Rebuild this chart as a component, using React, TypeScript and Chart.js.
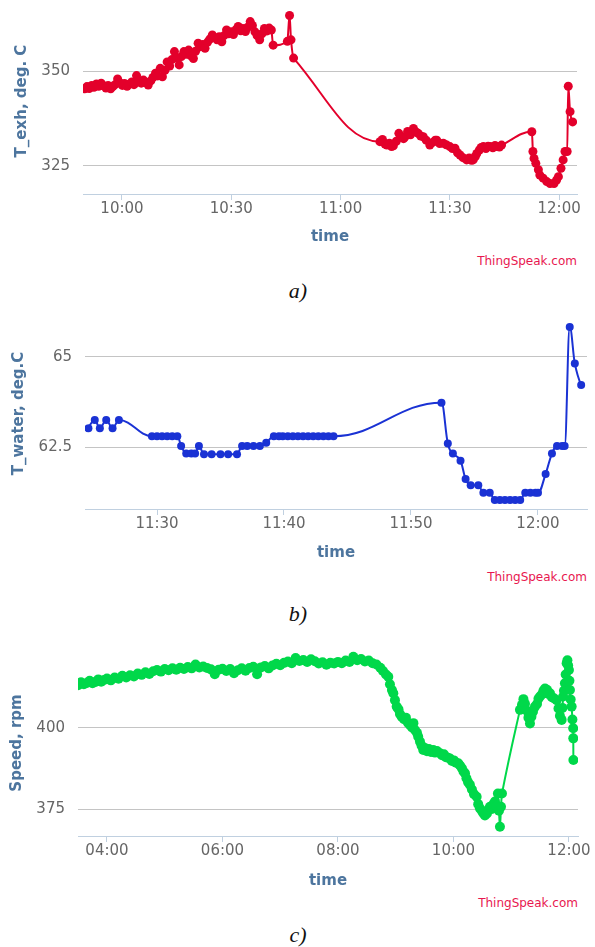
import React, { useEffect, useRef } from 'react';
import { Chart, registerables } from 'chart.js';

Chart.register(...registerables);

// ---------- a) exhaust temperature ----------
const exhTime = [
  589.8, 590.4, 591.0, 591.7, 592.3, 593.0, 593.6, 594.3, 594.9, 595.6, 596.2, 596.9, 597.5, 598.1, 598.8,
  599.4, 600.1, 600.7, 601.4, 602.0, 602.7, 603.3, 604.0, 604.6, 605.3, 605.9, 606.6, 607.2, 607.9, 608.5,
  609.2, 609.8, 610.5, 611.1, 611.8, 612.4, 613.1, 613.7, 614.4, 615.0, 615.7, 616.3, 617.0, 617.6, 618.3,
  618.9, 619.6, 620.2, 620.9, 621.5, 622.2, 622.8, 623.5, 624.1, 624.8, 625.4, 626.1, 626.7, 627.4, 628.0,
  628.7, 629.3, 630.0, 630.6, 631.3, 631.9, 632.6, 633.2, 633.9, 634.5, 635.2, 635.8, 636.5, 637.1, 637.8,
  638.4, 639.1, 639.7, 640.4, 641.0, 641.5, 645.4, 646.0, 646.4, 647.1,
  670.8, 671.5, 672.2, 672.7, 673.4, 674.0, 674.5, 675.3, 676.0, 676.6, 677.3, 677.7, 678.4, 679.2, 680.0,
  680.6, 681.3, 682.0, 682.7, 683.5, 684.5, 685.3, 686.0, 686.4, 687.2, 688.2, 689.0, 690.0, 690.7, 691.4,
  692.1, 692.8, 693.6, 694.6, 695.3, 695.9, 696.4, 697.0, 697.4, 698.1, 698.6, 699.2, 699.9, 700.5, 701.0,
  701.8, 702.4, 702.9, 703.6, 704.2,
  712.5, 712.8, 713.1, 713.6, 714.3, 714.7, 715.6, 716.6, 717.5, 718.6, 719.3, 719.8, 720.5, 721.1, 721.6,
  722.2, 722.5, 723.0, 723.7,
];
const exhValue = [
  345.3, 345.9, 345.4, 346.2, 345.7, 346.6, 346.0, 346.8, 346.1, 345.5, 346.2, 345.3, 345.9, 346.4, 347.9,
  346.9, 346.2, 346.7, 346.0, 346.5, 347.1, 346.4, 348.8, 347.5, 346.8, 347.6, 347.0, 346.3, 347.4, 348.3,
  349.4, 348.7, 350.7, 348.5, 350.2, 352.4, 351.3, 353.0, 355.1, 353.4, 351.6, 353.8, 355.1, 354.4, 355.5,
  354.0, 353.3, 355.2, 357.3, 356.4, 357.0, 356.0, 357.6, 358.4, 359.5, 358.8, 358.2, 359.0, 357.7, 359.3,
  360.8, 359.8, 360.3, 359.6, 360.9, 361.7, 360.6, 361.2, 360.4, 361.5, 363.0, 362.0, 360.3, 359.3, 358.2,
  359.8, 361.2, 360.5, 361.3, 360.8, 356.8, 357.8, 364.6, 358.2, 353.4,
  331.4, 332.0, 330.8, 330.5, 331.0, 330.1, 330.3, 331.5, 333.6, 332.8, 332.2, 332.7, 334.1, 333.2, 334.9,
  334.0, 333.6, 332.9, 332.7, 331.8, 330.5, 331.2, 331.8, 331.8, 330.9, 331.0, 330.6, 330.1, 329.6, 329.7,
  328.5, 327.9, 327.2, 326.6, 327.1, 326.5, 326.6, 327.5, 328.3, 329.2, 329.9, 330.1, 329.6, 330.2, 330.1,
  329.8, 330.4, 330.1, 330.0, 330.5,
  334.0, 328.8, 327.0, 325.7, 324.0, 322.6, 321.8, 320.9, 320.4, 320.4, 321.3, 322.2, 324.4, 326.6, 328.8,
  328.8, 346.0, 339.3, 336.6,
];
const exhXTicks = [600, 630, 660, 690, 720];
const exhYTicks = [325, 350];

// ---------- b) water temperature ----------
const waterTime = [
  684.6, 685.1, 685.5, 686.0, 686.5, 687.0,
  689.6, 690.0, 690.4, 690.8, 691.2, 691.6, 691.9, 692.3, 692.7, 693.0, 693.3, 693.7, 694.3, 695.0, 695.6,
  696.3, 696.7, 697.1, 697.6, 698.1, 698.6, 699.2, 699.6, 699.9, 700.3, 700.7, 701.1, 701.5, 701.9, 702.3,
  702.7, 703.1, 703.5, 703.9,
  712.4, 712.9, 713.3, 713.9, 714.3, 714.7, 715.3, 715.7, 716.2, 716.6, 717.0, 717.4, 717.8, 718.2, 718.6,
  719.0, 719.4, 719.8, 720.0, 720.6, 721.1, 721.5, 721.9, 722.1, 722.5, 722.9, 723.4,
];
const waterValue = [
  63.02, 63.25, 63.02, 63.25, 63.02, 63.25,
  62.8, 62.8, 62.8, 62.8, 62.8, 62.8, 62.53, 62.32, 62.32, 62.32, 62.53, 62.3, 62.3, 62.3, 62.3,
  62.3, 62.53, 62.53, 62.53, 62.53, 62.62, 62.8, 62.8, 62.8, 62.8, 62.8, 62.8, 62.8, 62.8, 62.8,
  62.8, 62.8, 62.8, 62.8,
  63.73, 62.6, 62.32, 62.12, 61.61, 61.44, 61.44, 61.23, 61.23, 61.03, 61.03, 61.03, 61.03, 61.03, 61.03,
  61.23, 61.23, 61.23, 61.23, 61.75, 62.32, 62.53, 62.53, 62.53, 65.83, 64.82, 64.22,
];
const waterXTicks = [690, 700, 710, 720];
const waterYTicks = [62.5, 65];

// ---------- c) speed ----------
const speedTime = [
  210, 213, 216, 219, 222, 225, 228, 231, 234, 237, 240, 244, 248, 252, 256, 260, 264, 268, 272, 276,
  280, 284, 288, 292, 296, 300, 304, 308, 312, 316, 320, 324, 328, 332, 336, 340, 344, 348, 352, 356,
  360, 364, 368, 372, 376, 380, 384, 388, 392, 396, 400, 404, 408, 412, 416, 420, 424, 428, 432, 436,
  440, 444, 448, 452, 456, 460, 464, 468, 472, 476, 480, 484, 488, 492, 496, 500, 504, 508, 512, 516,
  520, 524,
  526.8, 529.9, 532.3, 534.0, 536.1, 537.5, 539.2, 541.0, 542.9, 544.4, 546.2, 548.6, 550.6, 552.7, 554.8,
  556.9, 558.4, 560.0, 562.1, 563.4, 565.2, 566.9, 568.6, 570.4, 572.5, 574.5, 576.6, 579.0, 580.8, 582.9,
  586.0, 588.1, 590.1, 592.2, 594.3, 596.4, 598.4, 600.5, 602.6, 605.0, 606.8, 608.8, 610.4, 612.0, 613.5,
  615.1, 617.1, 619.2, 621.3, 624.1, 625.7, 627.5, 629.6, 631.0, 632.7, 634.8, 636.4, 637.9, 640.0, 641.6,
  643.1, 644.7, 646.2, 647.3, 648.3, 649.4, 650.4,
  669.1, 671.2, 672.7, 674.3, 676.4, 677.9, 679.5, 681.0, 682.6, 684.7, 686.8, 688.3, 689.9, 692.0, 693.5,
  695.1, 697.2, 698.7, 700.3, 702.3, 704.4, 707.2, 709.1, 710.6, 712.4, 713.2, 714.0, 714.8, 715.8, 716.6,
  717.6, 718.4, 719.2, 720.0, 720.5, 721.0, 721.8, 722.8, 723.6, 724.4, 724.5, 724.6,
];
const speedValue = [
  413.2, 414.1, 413.5, 413.9, 414.6, 413.8, 414.2, 415.0, 414.3, 414.8, 415.3, 414.7, 415.6, 415.2, 416.1,
  415.6, 416.3, 415.9, 416.8, 416.4, 417.2, 416.7, 417.5, 417.9, 417.4, 418.2, 417.8, 418.4, 418.0, 418.6,
  418.2, 418.8, 418.4, 419.6, 418.7, 419.0, 418.5, 418.1, 416.6, 418.0, 418.3, 417.6, 418.2, 416.9, 417.8,
  418.4, 417.7, 418.5, 418.9, 416.6, 418.7, 419.1, 418.4, 419.3, 419.8, 419.4, 420.1, 420.5, 420.0, 421.6,
  420.7, 421.0, 420.4, 421.2, 420.6, 419.9, 420.3, 419.5, 420.1, 419.9, 420.4, 420.0, 420.8, 420.4, 422.0,
  420.9, 421.3, 420.5, 420.8, 420.0, 419.6, 418.6,
  417.6, 416.5, 415.8, 413.5, 411.7, 410.7, 408.6, 406.6, 405.8, 404.3, 403.5, 402.7, 403.2, 401.6, 400.9,
  400.2, 401.5, 399.4, 398.5, 397.3, 395.8, 394.5, 393.2, 393.8, 392.8, 393.5, 392.6, 393.2, 392.4, 392.9,
  392.2, 391.6, 391.9, 391.0, 390.8, 390.6, 389.8, 390.0, 389.3, 389.1, 388.4, 387.6, 386.6, 386.0, 384.5,
  383.3, 382.5, 381.0, 379.6, 378.8, 376.5, 375.2, 374.4, 373.7, 373.0, 373.6, 374.8, 375.7, 375.0, 376.5,
  377.3, 376.0, 379.8, 374.5, 369.5, 375.7, 379.8,
  405.6, 407.2, 408.9, 407.5, 405.3, 403.2, 401.4, 403.5, 405.0, 406.6, 407.4, 409.0, 409.7, 410.4, 411.5,
  412.2, 411.8, 410.5, 410.7, 409.5, 409.2, 408.6, 406.0, 403.8, 402.5, 406.2, 409.7, 411.5, 413.8, 416.5,
  420.0, 420.9, 419.3, 417.9, 414.6, 411.7, 408.8, 406.6, 402.6, 399.9, 396.8, 390.1,
];
const speedXTicks = [240, 360, 480, 600, 720];
const speedYTicks = [375, 400];

const FONT = "'DejaVu Sans', Verdana, sans-serif";

function fmtTime(m: number): string {
  const h = Math.floor(m / 60 + 1e-6);
  const mm = Math.round(m - h * 60);
  return String(h).padStart(2, '0') + ':' + String(mm).padStart(2, '0');
}

// Spline control points in the style of the original (Highcharts-like) chart,
// computed from the pixel positions Chart.js gives each point.
const splinePlugin = {
  id: 'hcSpline',
  beforeDatasetDraw(chart: any, args: any) {
    const meta = args.meta;
    const line: any = meta.dataset;
    const pts: any[] = meta.data;
    if (!line || !pts || !pts.length) return;
    const smoothing = 1.5;
    const denom = smoothing + 1;
    for (let i = 0; i < pts.length; i++) {
      const p = pts[i];
      const last = pts[i - 1];
      const next = pts[i + 1];
      if (!last || !next) {
        p.cp1x = p.x; p.cp1y = p.y; p.cp2x = p.x; p.cp2y = p.y;
        continue;
      }
      const lx = (smoothing * p.x + last.x) / denom;
      let ly = (smoothing * p.y + last.y) / denom;
      const rx = (smoothing * p.x + next.x) / denom;
      let ry = (smoothing * p.y + next.y) / denom;
      let corr = 0;
      if (rx !== lx) corr = ((ry - ly) * (rx - p.x)) / (rx - lx) + p.y - ry;
      ly += corr;
      ry += corr;
      if (ly > last.y && ly > p.y) { ly = Math.max(last.y, p.y); ry = 2 * p.y - ly; }
      else if (ly < last.y && ly < p.y) { ly = Math.min(last.y, p.y); ry = 2 * p.y - ly; }
      if (ry > next.y && ry > p.y) { ry = Math.max(next.y, p.y); ly = 2 * p.y - ry; }
      else if (ry < next.y && ry < p.y) { ry = Math.min(next.y, p.y); ly = 2 * p.y - ry; }
      p.cp1x = lx; p.cp1y = ly; p.cp2x = rx; p.cp2y = ry;
    }
    line._pointsUpdated = true;
    line._path = undefined;
  },
};

type Props = {
  top: number;
  height: number;
  padTop: number;
  padRight: number;
  yWidth: number;
  xHeight: number;
  yTitlePad: number;
  xMin: number;
  xMax: number;
  yMin: number;
  yMax: number;
  xTicks: number[];
  yTicks: number[];
  times: number[];
  values: number[];
  color: string;
  yTitle: string;
  radius: number;
};

function TSChart(p: Props) {
  const ref = useRef<HTMLCanvasElement | null>(null);
  useEffect(() => {
    if (!ref.current) return;
    const chart = new Chart(ref.current, {
      type: 'line',
      data: {
        datasets: [
          {
            data: p.times.map((t, i) => ({ x: t, y: p.values[i] })),
            borderColor: p.color,
            backgroundColor: p.color,
            borderWidth: 2,
            tension: 0.4,
            pointRadius: p.radius,
            pointBackgroundColor: p.color,
            pointBorderWidth: 0,
            fill: false,
          },
        ],
      },
      plugins: [splinePlugin],
      options: {
        animation: false,
        responsive: false,
        maintainAspectRatio: false,
        devicePixelRatio: 1,
        layout: { padding: { left: 0, right: p.padRight, top: p.padTop, bottom: 0 } },
        plugins: { legend: { display: false }, tooltip: { enabled: false } },
        scales: {
          x: {
            type: 'linear',
            min: p.xMin,
            max: p.xMax,
            afterBuildTicks: (s: any) => {
              s.ticks = p.xTicks.map((v) => ({ value: v }));
            },
            afterFit: (s: any) => {
              s.height = p.xHeight;
            },
            ticks: {
              callback: (v: any) => fmtTime(Number(v)),
              color: '#666666',
              font: { family: FONT, size: 15 },
              padding: 0,
              maxRotation: 0,
              autoSkip: false,
            },
            grid: { drawOnChartArea: false, drawTicks: true, tickLength: 6, color: '#c0d0e0', lineWidth: 1 },
            border: { display: true, color: '#c0d0e0', width: 1 },
            title: {
              display: true,
              text: 'time',
              color: '#4d759e',
              font: { family: FONT, size: 15, weight: 'bold' },
              padding: { top: 0, bottom: 4 },
            },
          },
          y: {
            type: 'linear',
            min: p.yMin,
            max: p.yMax,
            afterBuildTicks: (s: any) => {
              s.ticks = p.yTicks.map((v) => ({ value: v }));
            },
            afterFit: (s: any) => {
              s.width = p.yWidth;
            },
            ticks: {
              callback: (v: any) => String(v),
              color: '#666666',
              font: { family: FONT, size: 15 },
              padding: 13,
            },
            grid: { color: '#c4c4c4', drawTicks: false, lineWidth: 1 },
            border: { display: false },
            title: {
              display: true,
              text: p.yTitle,
              color: '#4d759e',
              font: { family: FONT, size: 15, weight: 'bold' },
              padding: { top: p.yTitlePad, bottom: 0 },
            },
          },
        },
      } as any,
    });
    return () => chart.destroy();
  }, []);
  return (
    <canvas
      ref={ref}
      width={595}
      height={p.height}
      style={{ position: 'absolute', left: 0, top: p.top, width: 595, height: p.height }}
    />
  );
}

const brand: React.CSSProperties = {
  position: 'absolute',
  left: 0,
  textAlign: 'right',
  fontFamily: FONT,
  fontSize: 12,
  lineHeight: '14px',
  color: '#e8174f',
};
const caption: React.CSSProperties = {
  position: 'absolute',
  left: 0,
  width: 596,
  textAlign: 'center',
  fontFamily: "'Liberation Serif', 'Times New Roman', serif",
  fontStyle: 'italic',
  fontSize: 22,
  lineHeight: '26px',
  color: '#111',
};

export default function App() {
  return (
    <div style={{ position: 'absolute', left: 0, top: 0, width: 595, height: 947, background: '#fff', overflow: 'hidden' }}>
      <TSChart
        top={-22} height={272} padTop={30} padRight={18} yWidth={83} xHeight={56} yTitlePad={13}
        xMin={589.3} xMax={724.9} yMin={317.63} yMax={366.58}
        xTicks={exhXTicks} yTicks={exhYTicks} times={exhTime} values={exhValue}
        color="#e3002b" yTitle="T_exh, deg. C" radius={4.5}
      />
      <div style={{ ...brand, width: 577, top: 254 }}>ThingSpeak.com</div>
      <div style={{ ...caption, top: 278 }}>a)</div>

      <TSChart
        top={288} height={278} padTop={30} padRight={8} yWidth={85} xHeight={57} yTitlePad={10}
        xMin={684.33} xMax={723.86} yMin={60.78} yMax={66.08}
        xTicks={waterXTicks} yTicks={waterYTicks} times={waterTime} values={waterValue}
        color="#1a32d4" yTitle="T_water, deg.C" radius={4}
      />
      <div style={{ ...brand, width: 587, top: 570 }}>ThingSpeak.com</div>
      <div style={{ ...caption, top: 601 }}>b)</div>

      <TSChart
        top={620} height={274} padTop={30} padRight={17} yWidth={78} xHeight={58} yTitlePad={8}
        xMin={209.9} xMax={729.4} yMin={366.67} yMax={424.07}
        xTicks={speedXTicks} yTicks={speedYTicks} times={speedTime} values={speedValue}
        color="#00d84a" yTitle="Speed, rpm" radius={5}
      />
      <div style={{ ...brand, width: 578, top: 896 }}>ThingSpeak.com</div>
      <div style={{ ...caption, top: 922 }}>c)</div>
    </div>
  );
}
